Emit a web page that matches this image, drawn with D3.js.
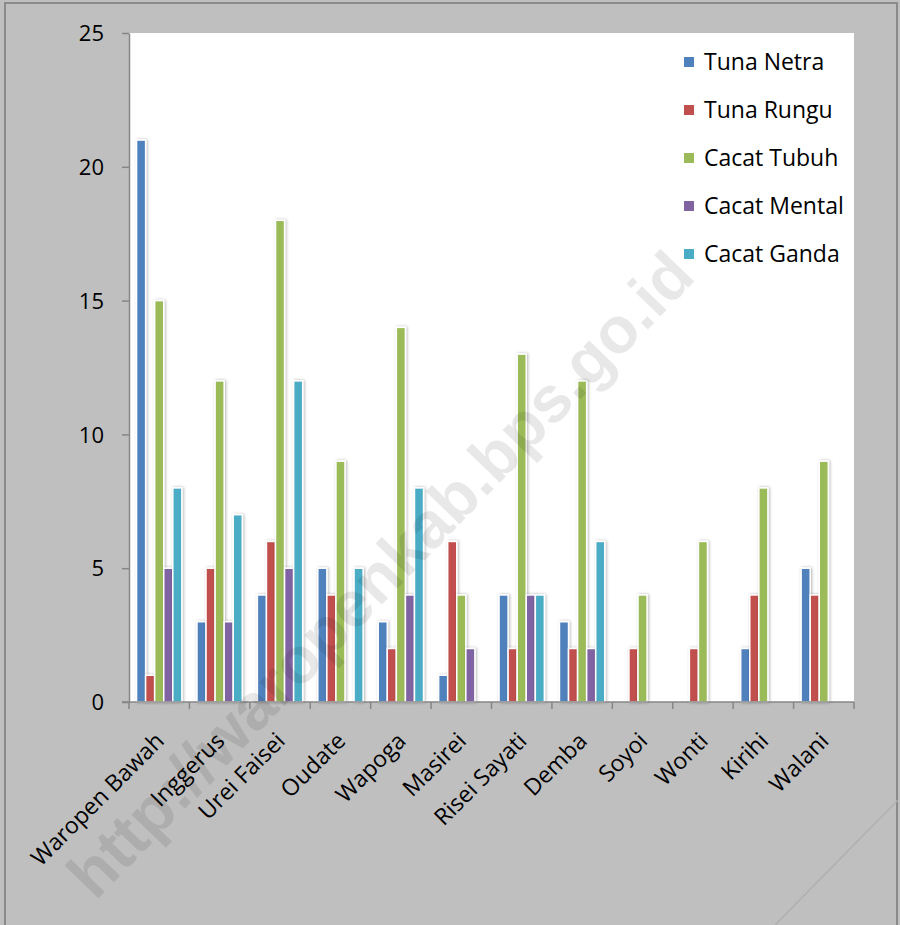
<!DOCTYPE html>
<html>
<head>
<meta charset="utf-8">
<script src="https://cdn.jsdelivr.net/npm/d3@7"></script>
<style>
  body { margin: 0; background: #fff; }
  svg text { font-family: "Open Sans", sans-serif; }
</style>
</head>
<body>
<div id="chart"></div>
<script>
const categories = ["Waropen Bawah", "Inggerus", "Urei Faisei", "Oudate", "Wapoga", "Masirei",
  "Risei Sayati", "Demba", "Soyoi", "Wonti", "Kirihi", "Walani"];
const seriesNames = ["Tuna Netra", "Tuna Rungu", "Cacat Tubuh", "Cacat Mental", "Cacat Ganda"];
const tunaNetra   = [21, 3, 4, 5, 3, 1, 4, 3, 0, 0, 2, 5];
const tunaRungu   = [1, 5, 6, 4, 2, 6, 2, 2, 2, 2, 4, 4];
const cacatTubuh  = [15, 12, 18, 9, 14, 4, 13, 12, 4, 6, 8, 9];
const cacatMental = [5, 3, 5, 0, 4, 2, 4, 2, 0, 0, 0, 0];
const cacatGanda  = [8, 7, 12, 5, 8, 0, 4, 6, 0, 0, 0, 0];
const yTicks = [0, 5, 10, 15, 20, 25];
const colors = ["#4f81bd", "#c0504d", "#9bbb59", "#8064a2", "#4bacc6"];

const seriesValues = [tunaNetra, tunaRungu, cacatTubuh, cacatMental, cacatGanda];

const W = 900, H = 925;
const plot = { left: 129, right: 854, top: 33, bottom: 702 };

const svg = d3.select("#chart").append("svg")
  .attr("width", W).attr("height", H);

const defs = svg.append("defs");
defs.append("filter").attr("id", "glow")
  .attr("x", "-50%").attr("y", "-10%").attr("width", "200%").attr("height", "120%")
  .append("feDropShadow")
  .attr("dx", 1).attr("dy", 0).attr("stdDeviation", 1.4)
  .attr("flood-color", "#000").attr("flood-opacity", 0.3);

// background frame
svg.append("rect").attr("x", 0).attr("y", 0).attr("width", W).attr("height", H)
  .attr("fill", "#bfbfbf");
svg.append("path")
  .attr("d", `M5,${H} L5,3 L897,3 L897,${H}`)
  .attr("fill", "none").attr("stroke", "#8a8a8a").attr("stroke-width", 2);
svg.append("line")
  .attr("x1", 898).attr("y1", 800).attr("x2", 775).attr("y2", H)
  .attr("stroke", "#b0b0b0").attr("stroke-width", 1.5);

// plot area
svg.append("rect")
  .attr("x", plot.left).attr("y", plot.top)
  .attr("width", plot.right - plot.left).attr("height", plot.bottom - plot.top)
  .attr("fill", "#fff");

const x0 = d3.scaleBand().domain(categories)
  .range([plot.left, plot.right]).paddingInner(0.25).paddingOuter(0.125);
const x1 = d3.scaleBand().domain(seriesNames).range([0, x0.bandwidth()]);
const y = d3.scaleLinear().domain([0, 25]).range([plot.bottom, plot.top]);

// bars
const data = [];
categories.forEach((c, i) => {
  seriesNames.forEach((s, j) => {
    data.push({ cat: c, series: s, value: seriesValues[j][i], color: colors[j] });
  });
});

svg.append("g")
  .selectAll("rect")
  .data(data.filter(d => d.value > 0))
  .join("rect")
  .attr("x", d => x0(d.cat) + x1(d.series))
  .attr("y", d => y(d.value))
  .attr("width", x1.bandwidth())
  .attr("height", d => y(0) - y(d.value))
  .attr("fill", d => d.color)
  .attr("stroke", "#fff")
  .attr("stroke-width", 1.5)
  .attr("filter", "url(#glow)");

// y axis
const yAxis = svg.append("g")
  .attr("transform", `translate(${plot.left},0)`)
  .call(d3.axisLeft(y).tickValues(yTicks).tickSize(7).tickPadding(18).tickSizeOuter(0));
yAxis.select(".domain").attr("stroke", "#868686").attr("stroke-width", 1.5);
yAxis.selectAll(".tick line").attr("stroke", "#868686").attr("stroke-width", 1.5);
yAxis.selectAll(".tick text")
  .attr("fill", "#000").style("font-size", "22px").attr("dy", "0.35em");

// x axis with boundary ticks
const boundaries = d3.range(categories.length + 1)
  .map(i => plot.left + i * (plot.right - plot.left) / categories.length);
const xAxis = svg.append("g");
xAxis.append("line")
  .attr("x1", plot.left - 7).attr("x2", plot.right)
  .attr("y1", y(0)).attr("y2", y(0))
  .attr("stroke", "#868686").attr("stroke-width", 1.5);
xAxis.selectAll(".bt").data(boundaries).join("line")
  .attr("class", "bt")
  .attr("x1", d => d).attr("x2", d => d)
  .attr("y1", y(0)).attr("y2", y(0) + 7)
  .attr("stroke", "#868686").attr("stroke-width", 1.5);
xAxis.selectAll("text").data(categories).join("text")
  .attr("transform", d => `translate(${x0(d) + x0.bandwidth() / 2 - 5},${y(0) + 29}) rotate(-45)`)
  .attr("text-anchor", "end")
  .attr("dy", "0.7em")
  .style("font-size", "23px")
  .attr("fill", "#000")
  .text(d => d);

// legend
const legend = svg.append("g").attr("transform", "translate(684,62)");
const li = legend.selectAll("g").data(seriesNames).join("g")
  .attr("transform", (d, i) => `translate(0,${i * 48})`);
li.append("rect").attr("x", 0).attr("y", -5).attr("width", 10).attr("height", 10)
  .attr("fill", (d, i) => colors[i]);
li.append("text").attr("x", 20).attr("dy", "0.36em")
  .style("font-size", "23px").attr("fill", "#000")
  .text(d => d);

// watermark
svg.append("text")
  .attr("transform", "translate(380,574) rotate(-46)")
  .attr("text-anchor", "middle")
  .attr("dy", "0.35em")
  .style("font-family", "'Liberation Sans', Arial, sans-serif")
  .style("font-weight", "bold")
  .style("font-size", "65px")
  .attr("fill", "#000")
  .attr("fill-opacity", 0.09)
  .text("http://waropenkab.bps.go.id");
</script>
</body>
</html>
